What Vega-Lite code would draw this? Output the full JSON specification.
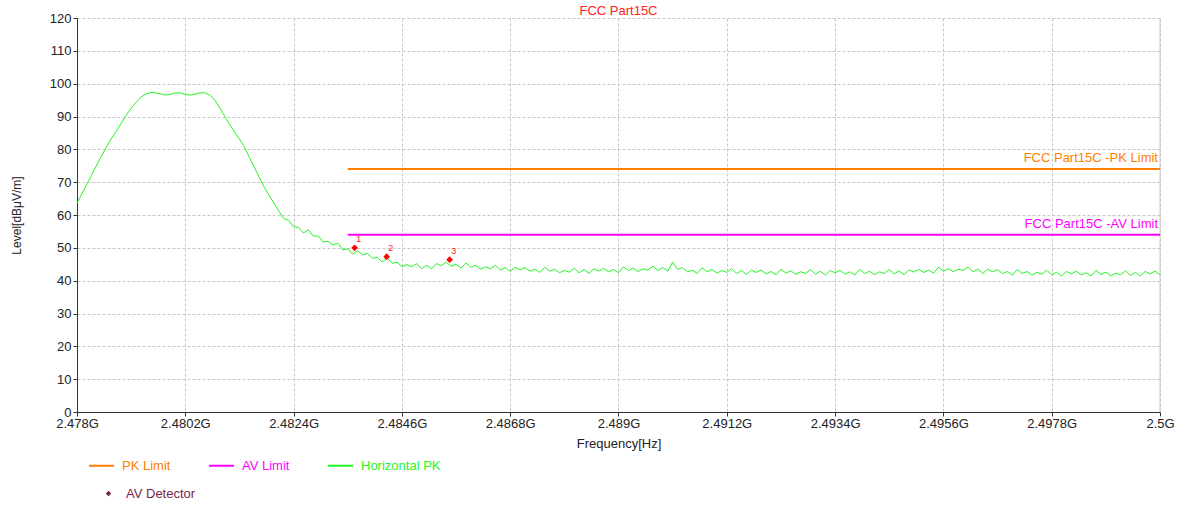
{
  "$schema": "https://vega.github.io/schema/vega-lite/v6.json",
  "width": 1083,
  "height": 394,
  "autosize": {"type": "none"},
  "padding": {"left": 77, "top": 18, "right": 19, "bottom": 94},
  "background": "white",
  "config": {
    "font": "Liberation Sans",
    "view": {"stroke": null},
    "axis": {
      "labelFont": "Liberation Sans",
      "titleFont": "Liberation Sans",
      "labelFontSize": 13,
      "titleFontSize": 13,
      "titleFontWeight": "normal",
      "labelColor": "#222222",
      "titleColor": "#222222",
      "domainColor": "#333333",
      "tickColor": "#333333",
      "tickSize": 4,
      "gridColor": "#c8c8c8",
      "gridDash": [3, 2],
      "gridWidth": 1
    },
    "legend": {"labelFont": "Liberation Sans", "labelFontSize": 13}
  },
  "title": {
    "text": "FCC Part15C",
    "color": "#FF2020",
    "fontSize": 13,
    "fontWeight": "normal",
    "font": "Liberation Sans",
    "anchor": "middle",
    "offset": -6
  },
  "datasets": {
    "trace": [
      {"f":2.4780,"v":63.6},{"f":2.4781,"v":66.5},{"f":2.4782,"v":69.4},{"f":2.4783,"v":72.3},{"f":2.4784,"v":75.2},
      {"f":2.4785,"v":78.0},{"f":2.4786,"v":80.8},{"f":2.4787,"v":83.3},{"f":2.4788,"v":85.6},{"f":2.4789,"v":88.0},
      {"f":2.4790,"v":90.4},{"f":2.4791,"v":92.5},{"f":2.4792,"v":94.3},{"f":2.4793,"v":95.9},{"f":2.4794,"v":96.9},
      {"f":2.4795,"v":97.3},{"f":2.4796,"v":97.2},{"f":2.4797,"v":96.9},{"f":2.4798,"v":96.5},{"f":2.4799,"v":96.8},
      {"f":2.4800,"v":97.2},{"f":2.4801,"v":97.2},{"f":2.4802,"v":96.8},{"f":2.4803,"v":96.5},{"f":2.4804,"v":96.8},
      {"f":2.4805,"v":97.2},{"f":2.4806,"v":97.2},{"f":2.4807,"v":96.5},{"f":2.4808,"v":95.0},{"f":2.4809,"v":92.6},
      {"f":2.4810,"v":90.1},{"f":2.4811,"v":87.6},{"f":2.4812,"v":85.4},{"f":2.4813,"v":83.1},{"f":2.4814,"v":80.8},
      {"f":2.4815,"v":77.6},{"f":2.4816,"v":74.6},{"f":2.4817,"v":71.6},{"f":2.4818,"v":68.5},{"f":2.4819,"v":66.1},
      {"f":2.4820,"v":63.6},{"f":2.4821,"v":61.2},{"f":2.4822,"v":58.9},
      {"f":2.4823,"v":58.4},{"f":2.4824,"v":56.4},{"f":2.4825,"v":56.2},{"f":2.4826,"v":54.5},{"f":2.4827,"v":55.5},
      {"f":2.4828,"v":53.6},{"f":2.4829,"v":53.6},{"f":2.4830,"v":51.8},{"f":2.4831,"v":52.0},{"f":2.4832,"v":50.9},
      {"f":2.4833,"v":51.4},{"f":2.4834,"v":49.4},{"f":2.4835,"v":49.7},{"f":2.4836,"v":48.1},{"f":2.4837,"v":49.1},
      {"f":2.4838,"v":47.9},{"f":2.4839,"v":48.3},{"f":2.4840,"v":46.8},{"f":2.4841,"v":47.1},{"f":2.4842,"v":45.7},
      {"f":2.4843,"v":46.9},{"f":2.4844,"v":45.3},{"f":2.4845,"v":45.6},{"f":2.4846,"v":44.3},{"f":2.4847,"v":44.9},
      {"f":2.4848,"v":44.2},{"f":2.4849,"v":45.2},{"f":2.4850,"v":43.6},{"f":2.4851,"v":44.7},{"f":2.4852,"v":43.6},
      {"f":2.4853,"v":45.2},{"f":2.4854,"v":44.6},{"f":2.4855,"v":45.6},{"f":2.4856,"v":44.4},{"f":2.4857,"v":45.0},
      {"f":2.4858,"v":43.8},{"f":2.4859,"v":45.4},{"f":2.4860,"v":44.1},{"f":2.4861,"v":44.7},{"f":2.4862,"v":43.5},
      {"f":2.4863,"v":44.2},{"f":2.4864,"v":43.6},{"f":2.4865,"v":44.7},{"f":2.4866,"v":43.2},{"f":2.4867,"v":44.0},
      {"f":2.4868,"v":42.8},{"f":2.4869,"v":44.1},{"f":2.4870,"v":43.3},{"f":2.4871,"v":44.0},{"f":2.4872,"v":42.9},
      {"f":2.4873,"v":43.5},{"f":2.4874,"v":42.5},{"f":2.4875,"v":44.1},{"f":2.4876,"v":42.9},{"f":2.4877,"v":43.5},
      {"f":2.4878,"v":42.4},{"f":2.4879,"v":43.1},{"f":2.4880,"v":42.6},{"f":2.4881,"v":43.8},{"f":2.4882,"v":42.4},
      {"f":2.4883,"v":43.4},{"f":2.4884,"v":42.2},{"f":2.4885,"v":43.6},{"f":2.4886,"v":42.9},{"f":2.4887,"v":43.7},
      {"f":2.4888,"v":42.7},{"f":2.4889,"v":43.4},{"f":2.4890,"v":42.4},{"f":2.4891,"v":44.2},{"f":2.4892,"v":43.1},
      {"f":2.4893,"v":43.8},{"f":2.4894,"v":42.8},{"f":2.4895,"v":43.6},{"f":2.4896,"v":43.2},{"f":2.4897,"v":44.4},
      {"f":2.4898,"v":43.1},{"f":2.4899,"v":44.0},{"f":2.4900,"v":42.9},{"f":2.4901,"v":45.6},{"f":2.4902,"v":43.4},
      {"f":2.4903,"v":44.0},{"f":2.4904,"v":42.7},{"f":2.4905,"v":43.2},{"f":2.4906,"v":42.2},{"f":2.4907,"v":43.9},
      {"f":2.4908,"v":42.7},{"f":2.4909,"v":43.4},{"f":2.4910,"v":42.3},{"f":2.4911,"v":43.1},{"f":2.4912,"v":42.5},
      {"f":2.4913,"v":43.7},{"f":2.4914,"v":42.2},{"f":2.4915,"v":43.1},{"f":2.4916,"v":41.9},{"f":2.4917,"v":43.2},
      {"f":2.4918,"v":42.5},{"f":2.4919,"v":43.2},{"f":2.4920,"v":42.1},{"f":2.4921,"v":42.8},{"f":2.4922,"v":41.8},
      {"f":2.4923,"v":43.5},{"f":2.4924,"v":42.3},{"f":2.4925,"v":43.0},{"f":2.4926,"v":41.9},{"f":2.4927,"v":42.7},
      {"f":2.4928,"v":42.2},{"f":2.4929,"v":43.4},{"f":2.4930,"v":42.0},{"f":2.4931,"v":42.9},{"f":2.4932,"v":41.7},
      {"f":2.4933,"v":43.1},{"f":2.4934,"v":42.4},{"f":2.4935,"v":43.1},{"f":2.4936,"v":42.0},{"f":2.4937,"v":42.7},
      {"f":2.4938,"v":41.7},{"f":2.4939,"v":43.4},{"f":2.4940,"v":42.2},{"f":2.4941,"v":42.9},{"f":2.4942,"v":41.8},
      {"f":2.4943,"v":42.7},{"f":2.4944,"v":42.2},{"f":2.4945,"v":43.4},{"f":2.4946,"v":42.1},{"f":2.4947,"v":43.0},
      {"f":2.4948,"v":41.8},{"f":2.4949,"v":43.3},{"f":2.4950,"v":42.6},{"f":2.4951,"v":43.5},{"f":2.4952,"v":42.5},
      {"f":2.4953,"v":43.2},{"f":2.4954,"v":42.3},{"f":2.4955,"v":44.1},{"f":2.4956,"v":42.9},{"f":2.4957,"v":43.7},
      {"f":2.4958,"v":42.7},{"f":2.4959,"v":43.5},{"f":2.4960,"v":43.1},{"f":2.4961,"v":44.2},{"f":2.4962,"v":42.7},
      {"f":2.4963,"v":43.5},{"f":2.4964,"v":42.2},{"f":2.4965,"v":43.5},{"f":2.4966,"v":42.7},{"f":2.4967,"v":43.4},
      {"f":2.4968,"v":42.2},{"f":2.4969,"v":42.8},{"f":2.4970,"v":41.7},{"f":2.4971,"v":43.4},{"f":2.4972,"v":42.2},
      {"f":2.4973,"v":42.8},{"f":2.4974,"v":41.7},{"f":2.4975,"v":42.5},{"f":2.4976,"v":42.0},{"f":2.4977,"v":43.2},
      {"f":2.4978,"v":41.7},{"f":2.4979,"v":42.6},{"f":2.4980,"v":41.4},{"f":2.4981,"v":42.8},{"f":2.4982,"v":42.1},
      {"f":2.4983,"v":42.9},{"f":2.4984,"v":41.8},{"f":2.4985,"v":42.4},{"f":2.4986,"v":41.4},{"f":2.4987,"v":43.1},
      {"f":2.4988,"v":41.9},{"f":2.4989,"v":42.6},{"f":2.4990,"v":41.5},{"f":2.4991,"v":42.3},{"f":2.4992,"v":41.8},
      {"f":2.4993,"v":43.0},{"f":2.4994,"v":41.6},{"f":2.4995,"v":42.5},{"f":2.4996,"v":41.4},{"f":2.4997,"v":42.8},
      {"f":2.4998,"v":42.1},{"f":2.4999,"v":42.9},{"f":2.5000,"v":41.8}
    ],
    "limits": [
      {"s":"PK Limit","f":2.4835,"v":74},{"s":"PK Limit","f":2.5,"v":74},
      {"s":"AV Limit","f":2.4835,"v":54},{"s":"AV Limit","f":2.5,"v":54}
    ],
    "limitLabels": [
      {"s":"PK Limit","f":2.5,"v":74,"t":"FCC Part15C -PK Limit"},
      {"s":"AV Limit","f":2.5,"v":54,"t":"FCC Part15C -AV Limit"}
    ],
    "markers": [
      {"n":"1","f":2.48364,"v":50.0},
      {"n":"2","f":2.48429,"v":47.3},
      {"n":"3","f":2.48557,"v":46.4}
    ]
  },
  "encoding": {
    "x": {
      "field": "f", "type": "quantitative",
      "scale": {"domain": [2.478, 2.5], "nice": false, "zero": false},
      "axis": {
        "title": "Frequency[Hz]",
        "values": [2.478, 2.4802, 2.4824, 2.4846, 2.4868, 2.489, 2.4912, 2.4934, 2.4956, 2.4978, 2.5],
        "labelExpr": "format(datum.value, '.4~f') + 'G'",
        "labelFlush": false,
        "labelOverlap": false,
        "labelPadding": 1,
        "titlePadding": 7,
        "grid": true
      }
    },
    "y": {
      "field": "v", "type": "quantitative",
      "scale": {"domain": [0, 120], "nice": false},
      "axis": {
        "title": "Level[dBμV/m]",
        "titleFontSize": 12,
        "values": [0, 10, 20, 30, 40, 50, 60, 70, 80, 90, 100, 110, 120],
        "labelOverlap": false,
        "labelFlush": false,
        "labelPadding": 2,
        "titlePadding": 26,
        "grid": true
      }
    }
  },
  "layer": [
    {
      "data": {"values": [{"f": 2.5}]},
      "mark": {"type": "rule", "color": "#c8c8c8", "strokeWidth": 1},
      "encoding": {
        "y": {"value": 0},
        "y2": {"value": 394}
      }
    },
    {
      "data": {"name": "trace"},
      "mark": {"type": "line", "strokeWidth": 1, "interpolate": "linear"},
      "encoding": {
        "color": {
          "datum": "Horizontal PK",
          "title": null,
          "scale": {
            "domain": ["PK Limit", "AV Limit", "Horizontal PK"],
            "range": ["#FF8000", "#FF00FF", "#22F522"]
          },
          "legend": {
            "title": null,
            "orient": "none",
            "legendX": 11,
            "legendY": 434,
            "direction": "horizontal",
            "columns": 3,
            "columnPadding": 34,
            "symbolType": "stroke",
            "symbolSize": 625,
            "symbolStrokeWidth": 2,
            "labelOffset": 7,
            "labelFontSize": 13,
            "encode": {
              "labels": {"update": {"fill": {"scale": "color", "field": "value"}}}
            }
          }
        }
      }
    },
    {
      "data": {"name": "limits"},
      "mark": {"type": "line", "strokeWidth": 2},
      "encoding": {
        "color": {"field": "s", "type": "nominal", "title": null},
        "detail": {"field": "s"}
      }
    },
    {
      "data": {"name": "limitLabels"},
      "transform": [{"filter": "datum.s == 'PK Limit'"}],
      "mark": {"type": "text", "align": "right", "baseline": "bottom", "dy": -4, "dx": -2, "fontSize": 13, "color": "#FF8000", "font": "Liberation Sans"},
      "encoding": {
        "text": {"field": "t"}
      }
    },
    {
      "data": {"name": "limitLabels"},
      "transform": [{"filter": "datum.s == 'AV Limit'"}],
      "mark": {"type": "text", "align": "right", "baseline": "bottom", "dy": -4, "dx": -2, "fontSize": 13, "color": "#FF00FF", "font": "Liberation Sans"},
      "encoding": {
        "text": {"field": "t"}
      }
    },
    {
      "data": {"values": []},
      "mark": {"type": "point", "filled": true, "color": "#7B1F4F", "size": 30, "opacity": 1},
      "encoding": {
        "shape": {
          "datum": "AV Detector",
          "title": null,
          "scale": {"domain": ["AV Detector"], "range": ["diamond"]},
          "legend": {
            "title": null,
            "orient": "none",
            "legendX": 25,
            "legendY": 469,
            "symbolSize": 30,
            "labelOffset": 11,
            "labelColor": "#7B1F4F",
            "labelFontSize": 13
          }
        }
      }
    },
    {
      "data": {"name": "markers"},
      "mark": {"type": "point", "shape": "diamond", "filled": true, "color": "#FF0000", "size": 45, "opacity": 1},
      "encoding": {}
    },
    {
      "data": {"name": "markers"},
      "mark": {"type": "text", "color": "#FF2020", "fontSize": 9, "dx": 4, "dy": -9, "font": "Liberation Sans"},
      "encoding": {
        "text": {"field": "n"}
      }
    }
  ]
}
